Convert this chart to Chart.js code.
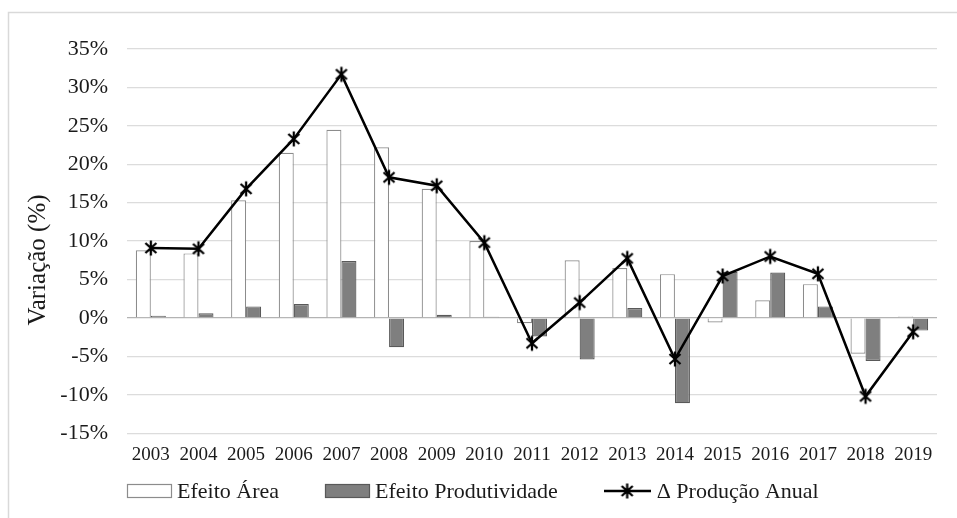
<!DOCTYPE html>
<html>
<head>
<meta charset="utf-8">
<script src="https://cdn.jsdelivr.net/npm/chart.js@4"></script>
<style>
  html, body { margin: 0; padding: 0; background: #fff; }
  #wrap { width: 957px; height: 518px; position: relative; }
</style>
</head>
<body>
<div id="wrap"><canvas id="grafico"></canvas></div>
<script>
// Dados (variação %)
const anos = ['2003', '2004', '2005', '2006', '2007', '2008', '2009', '2010', '2011',
  '2012', '2013', '2014', '2015', '2016', '2017', '2018', '2019'];
const efeitoArea = [8.8, 8.4, 15.3, 21.5, 24.5, 22.2, 16.8, 10.0, -0.7,
  7.5, 6.5, 5.7, -0.6, 2.3, 4.4, -4.65, 0.2];
const efeitoProdutividade = [0.3, 0.6, 1.5, 1.8, 7.4, -3.8, 0.4, 0.15, -2.4,
  -5.4, 1.3, -11.1, 6.0, 5.9, 1.5, -5.6, -1.65];
const producaoAnual = [9.1, 9.0, 16.8, 23.3, 31.7, 18.3, 17.2, 9.8, -3.3,
  2.0, 7.75, -5.35, 5.45, 8.0, 5.75, -10.2, -1.8];

const eixoMin = -15;
const eixoMax = 35;
const eixoPasso = 5;

const fonte = '"Liberation Serif", "Times New Roman", serif';
const corTexto = '#1a1a1a';

const estiloArea = { fill: '#ffffff', stroke: '#8c8c8c' };
const estiloProd = { fill: '#7f7f7f', stroke: '#595959' };

// marcador tipo asterisco (X + traço vertical), como no Excel
function criarEstrela(larguraLinha) {
  const c = document.createElement('canvas');
  const w = larguraLinha || 16;
  c.width = w;
  c.height = 18;
  const ctx = c.getContext('2d');
  const cx = w / 2, cy = 9;
  ctx.strokeStyle = '#000';
  ctx.lineWidth = 2.3;
  ctx.beginPath();
  if (larguraLinha) {
    ctx.moveTo(0, cy);
    ctx.lineTo(w, cy);
  }
  ctx.moveTo(cx - 5.5, cy - 5);
  ctx.lineTo(cx + 5.5, cy + 5);
  ctx.moveTo(cx + 5.5, cy - 5);
  ctx.lineTo(cx - 5.5, cy + 5);
  ctx.moveTo(cx, cy - 7.5);
  ctx.lineTo(cx, cy + 7.5);
  ctx.stroke();
  return c;
}

const estrela = criarEstrela();
const estrelaLegenda = criarEstrela(47);

// moldura cinza (topo e lado esquerdo)
const moldura = {
  id: 'moldura',
  beforeDraw(chart) {
    const ctx = chart.ctx;
    ctx.save();
    ctx.fillStyle = '#fff';
    ctx.fillRect(0, 0, chart.width, chart.height);
    ctx.strokeStyle = '#d9d9d9';
    ctx.lineWidth = 1.5;
    ctx.beginPath();
    ctx.moveTo(8.5, chart.height);
    ctx.lineTo(8.5, 12.5);
    ctx.lineTo(chart.width, 12.5);
    ctx.stroke();
    ctx.restore();
  }
};

// título do eixo Y
const tituloEixo = {
  id: 'tituloEixo',
  afterDraw(chart) {
    const ctx = chart.ctx;
    ctx.save();
    ctx.translate(38, 260);
    ctx.rotate(-Math.PI / 2);
    ctx.font = '25px ' + fonte;
    ctx.fillStyle = corTexto;
    ctx.textAlign = 'center';
    ctx.textBaseline = 'middle';
    ctx.fillText('Variação (%)', 0, 0);
    ctx.restore();
  }
};

// legenda no estilo do Excel (símbolo + texto colado, espaço grande entre itens)
const legenda = {
  id: 'legenda',
  afterDraw(chart) {
    const ctx = chart.ctx;
    const ds = chart.data.datasets;
    const y = 491;
    const espaco = 46;
    let x = chart.chartArea.left;
    ctx.save();
    ctx.font = '22px ' + fonte;
    ctx.fillStyle = corTexto;
    ctx.textBaseline = 'middle';
    ctx.textAlign = 'left';

    [[ds[1], estiloArea], [ds[2], estiloProd]].forEach(([d, est]) => {
      ctx.fillStyle = est.fill;
      ctx.strokeStyle = est.stroke;
      ctx.lineWidth = 1.2;
      ctx.fillRect(x, y - 7, 45, 14);
      ctx.strokeRect(x + 0.5, y - 6.5, 44, 13);
      x += 50;
      ctx.fillStyle = corTexto;
      ctx.fillText(d.label, x, y + 1);
      x += ctx.measureText(d.label).width + espaco;
    });

    ctx.drawImage(estrelaLegenda, x, y - 9);
    x += estrelaLegenda.width + 6;
    ctx.fillText(ds[0].label, x, y + 1);
    ctx.restore();
  }
};

new Chart(document.getElementById('grafico'), {
  data: {
    labels: anos,
    datasets: [
      {
        type: 'line',
        label: '\u0394 Produção Anual',
        data: producaoAnual,
        borderColor: '#000',
        backgroundColor: '#000',
        borderWidth: 2.5,
        tension: 0,
        pointStyle: estrela,
        pointRadius: 6,
        order: 0
      },
      {
        type: 'bar',
        label: 'Efeito Área',
        data: efeitoArea,
        backgroundColor: estiloArea.fill,
        borderColor: estiloArea.stroke,
        borderWidth: 1.2,
        categoryPercentage: 0.63,
        barPercentage: 1,
        order: 1
      },
      {
        type: 'bar',
        label: 'Efeito Produtividade',
        data: efeitoProdutividade,
        backgroundColor: estiloProd.fill,
        borderColor: estiloProd.stroke,
        borderWidth: 1.2,
        categoryPercentage: 0.63,
        barPercentage: 1,
        order: 2
      }
    ]
  },
  options: {
    responsive: true,
    maintainAspectRatio: false,
    animation: false,
    layout: { padding: { left: 10, right: 20, top: 49, bottom: 42 } },
    plugins: {
      tooltip: { enabled: false },
      legend: { display: false }
    },
    scales: {
      x: {
        grid: { display: false, drawTicks: false },
        border: { display: false },
        ticks: {
          font: { family: fonte, size: 19 },
          color: corTexto,
          padding: 10,
          maxRotation: 0,
          autoSkip: false
        }
      },
      y: {
        min: eixoMin,
        max: eixoMax,
        ticks: {
          stepSize: eixoPasso,
          font: { family: fonte, size: 22 },
          color: corTexto,
          padding: 19,
          callback: v => v + '%'
        },
        grid: {
          drawTicks: false,
          lineWidth: 1.3,
          color: ctx => ctx.tick && ctx.tick.value === 0 ? '#b3b3b3' : '#dcdcdc'
        },
        border: { display: false },
        afterFit(scale) { scale.width = 117; }
      }
    }
  },
  plugins: [moldura, tituloEixo, legenda]
});
</script>
</body>
</html>
